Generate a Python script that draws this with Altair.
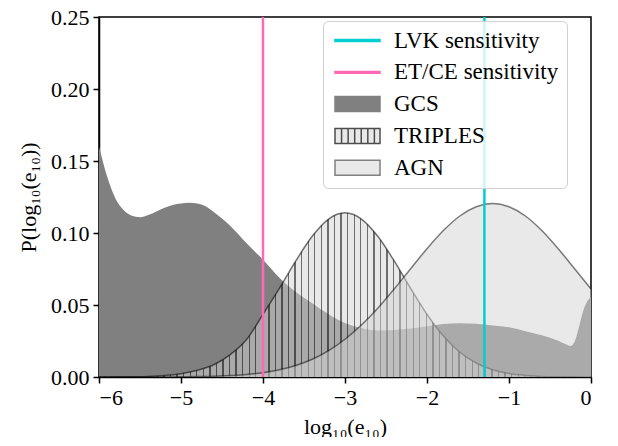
import altair as alt
import pandas as pd

# ---------------- data ----------------
gcs_x = [-6.0, -5.9, -5.8, -5.7, -5.6, -5.5, -5.4, -5.3, -5.2, -5.1, -5.0, -4.9, -4.8, -4.7,
         -4.6, -4.5, -4.4, -4.2, -4.0, -3.8, -3.6, -3.4, -3.2, -3.0, -2.8, -2.6, -2.4, -2.2,
         -2.0, -1.8, -1.6, -1.4, -1.2, -1.0, -0.8, -0.6, -0.4, -0.3, -0.25, -0.2, -0.15,
         -0.1, -0.05, 0.0]
gcs_y = [0.160, 0.139, 0.124, 0.116, 0.112, 0.111, 0.1125, 0.115, 0.1175, 0.1195, 0.1205,
         0.121, 0.1205, 0.1185, 0.1145, 0.110, 0.105, 0.0928, 0.0815, 0.069, 0.059, 0.0512,
         0.0436, 0.0375, 0.034, 0.0323, 0.0326, 0.0336, 0.0352, 0.0368, 0.0374, 0.0370,
         0.0358, 0.0345, 0.0318, 0.0290, 0.0252, 0.0226, 0.0216, 0.0245, 0.034, 0.045,
         0.052, 0.0555]

grid_x = [-6.0, -5.8, -5.6, -5.4, -5.2, -5.0, -4.8, -4.6, -4.4, -4.2, -4.0, -3.8, -3.6,
          -3.4, -3.2, -3.0, -2.8, -2.6, -2.4, -2.2, -2.0, -1.8, -1.6, -1.4, -1.2, -1.0,
          -0.8, -0.6, -0.4, -0.2, 0.0]
triples_y = [0.0, 0.0001, 0.0002, 0.0004, 0.0010, 0.0023, 0.0047, 0.0085, 0.0155, 0.0260,
             0.0435, 0.0615, 0.0806, 0.0977, 0.1097, 0.1140, 0.1097, 0.0977, 0.0806, 0.0615,
             0.0435, 0.0284, 0.0172, 0.0097, 0.0050, 0.0024, 0.0011, 0.0004, 0.0002, 0.0001,
             0.0]
agn_y = [0.0, 0.0, 0.0, 0.00003, 0.00006, 0.00013, 0.00027, 0.0005, 0.0010, 0.0017, 0.0030,
         0.0050, 0.0080, 0.0123, 0.0183, 0.0262, 0.0361, 0.0478, 0.0611, 0.0752, 0.0891,
         0.1017, 0.1118, 0.1182, 0.1205, 0.1182, 0.1118, 0.1017, 0.0891, 0.0752, 0.0611]

sens_labels = ["LVK sensitivity", "ET/CE sensitivity"]
sens_x = [-1.3, -4.0]

legend_labels = ["LVK sensitivity", "ET/CE sensitivity", "GCS", "TRIPLES", "AGN"]

x_ticks = [-6, -5, -4, -3, -2, -1, 0]
y_ticks = [0.0, 0.05, 0.10, 0.15, 0.20, 0.25]

# ---------------- styling ----------------
FONT = "Liberation Serif"
CYAN = "#00CED1"
PINK = "#FF69B4"

gcs_df = pd.DataFrame({"x": gcs_x, "y": gcs_y})
tri_df = pd.DataFrame({"x": grid_x, "y": triples_y})
agn_df = pd.DataFrame({"x": grid_x, "y": agn_y})
sens_df = pd.DataFrame({"label": sens_labels, "x": sens_x})
leg_df = pd.DataFrame({"label": legend_labels})

xs = alt.Scale(domain=[-6, 0], nice=False, zero=False)
ys = alt.Scale(domain=[0, 0.25], nice=False)
X = alt.X("x:Q", scale=xs, axis=alt.Axis(values=x_ticks, format="d", title="log₁₀(e₁₀)"))
Y = alt.Y("y:Q", scale=ys, axis=alt.Axis(values=y_ticks, format=".2f", title="P(log₁₀(e₁₀))"))

# vertical hatch as a striped gradient across the full plot width
N_STRIPES = 75
frac = 0.80
gap_col = "rgba(211,211,211,0.5)"
line_col = "rgba(60,60,60,0.75)"
stops = []
for i in range(N_STRIPES):
    a = i / N_STRIPES
    b = (i + frac) / N_STRIPES
    c = (i + 1) / N_STRIPES
    stops += [alt.GradientStop(color=gap_col, offset=a),
              alt.GradientStop(color=gap_col, offset=b),
              alt.GradientStop(color=line_col, offset=b),
              alt.GradientStop(color=line_col, offset=c)]
hatch = alt.Gradient(gradient="linear", stops=stops, x1=0, x2=1, y1=0, y2=0)

gcs_area = alt.Chart(gcs_df).mark_area(interpolate="monotone", color="#808080").encode(x=X, y=Y)
tri_area = alt.Chart(tri_df).mark_area(interpolate="monotone", fill=hatch).encode(x=X, y=Y)
tri_line = alt.Chart(tri_df).mark_line(interpolate="monotone", color="black", strokeOpacity=0.55,
                                       strokeWidth=1.5).encode(x=X, y=Y)
agn_area = alt.Chart(agn_df).mark_area(interpolate="monotone", color="#d3d3d3",
                                       fillOpacity=0.5).encode(x=X, y=Y)
agn_line = alt.Chart(agn_df).mark_line(interpolate="monotone", color="black", strokeOpacity=0.5,
                                       strokeWidth=1.5).encode(x=X, y=Y)

lvk_rule = alt.Chart(sens_df).transform_filter(alt.datum.label == "LVK sensitivity").mark_rule(
    color=CYAN, strokeWidth=2.5).encode(x=alt.X("x:Q", scale=xs))
et_rule = alt.Chart(sens_df).transform_filter(alt.datum.label == "ET/CE sensitivity").mark_rule(
    color=PINK, strokeWidth=2.5).encode(x=alt.X("x:Q", scale=xs))

line_sym = "M-3,-0.12H3V0.12H-3Z"
rect_sym = "M-3,-1H3V1H-3Z"
hatch_sym = ("M-3,-1H3V1H-3Z M-2.125,-1V1 M-1.25,-1V1 M-0.375,-1V1 "
             "M0.5,-1V1 M1.375,-1V1 M2.25,-1V1")

legend_layer = alt.Chart(leg_df).mark_point(opacity=0).encode(
    fill=alt.Fill("label:N", title=None,
                  scale=alt.Scale(domain=legend_labels,
                                  range=[CYAN, PINK, "#808080", "#e9e9e9", "#e9e9e9"])),
    stroke=alt.Stroke("label:N", title=None,
                      scale=alt.Scale(domain=legend_labels,
                                      range=[CYAN, PINK, "#808080", "#4d4d4d", "#808080"])),
    shape=alt.Shape("label:N", title=None,
                    scale=alt.Scale(domain=legend_labels,
                                    range=[line_sym, line_sym, rect_sym, hatch_sym, rect_sym])),
)

chart = alt.layer(
    gcs_area, tri_area, tri_line, agn_area, agn_line, lvk_rule, et_rule, legend_layer
).properties(
    width=492, height=360,
    autosize=alt.AutoSizeParams(type="none"),
    padding={"left": 91, "top": 9, "right": 12, "bottom": 60},
).configure_view(
    stroke="black", strokeWidth=1.5
).configure_axis(
    grid=False, domainColor="black", domainWidth=1.5, tickColor="black", tickWidth=1.5,
    tickSize=6, labelFont=FONT, labelFontSize=22, labelColor="black",
    titleFont=FONT, titleFontSize=22, titleColor="black", titleFontWeight="normal",
    labelPadding=4,
).configure_axisX(
    titlePadding=8
).configure_axisY(
    titlePadding=10
).configure_legend(
    orient="none", legendX=224, legendY=4,
    labelFont=FONT, labelFontSize=23, labelColor="black", labelLimit=400,
    symbolSize=225, symbolStrokeWidth=1.5, symbolOpacity=1,
    symbolOffset=15, labelOffset=25, rowPadding=7.8,
    padding=8, fillColor="rgba(255,255,255,0.8)", strokeColor="#d0d0d0",
    cornerRadius=5,
)

chart.save("out.html", embed_options={"renderer": "svg", "actions": False})
